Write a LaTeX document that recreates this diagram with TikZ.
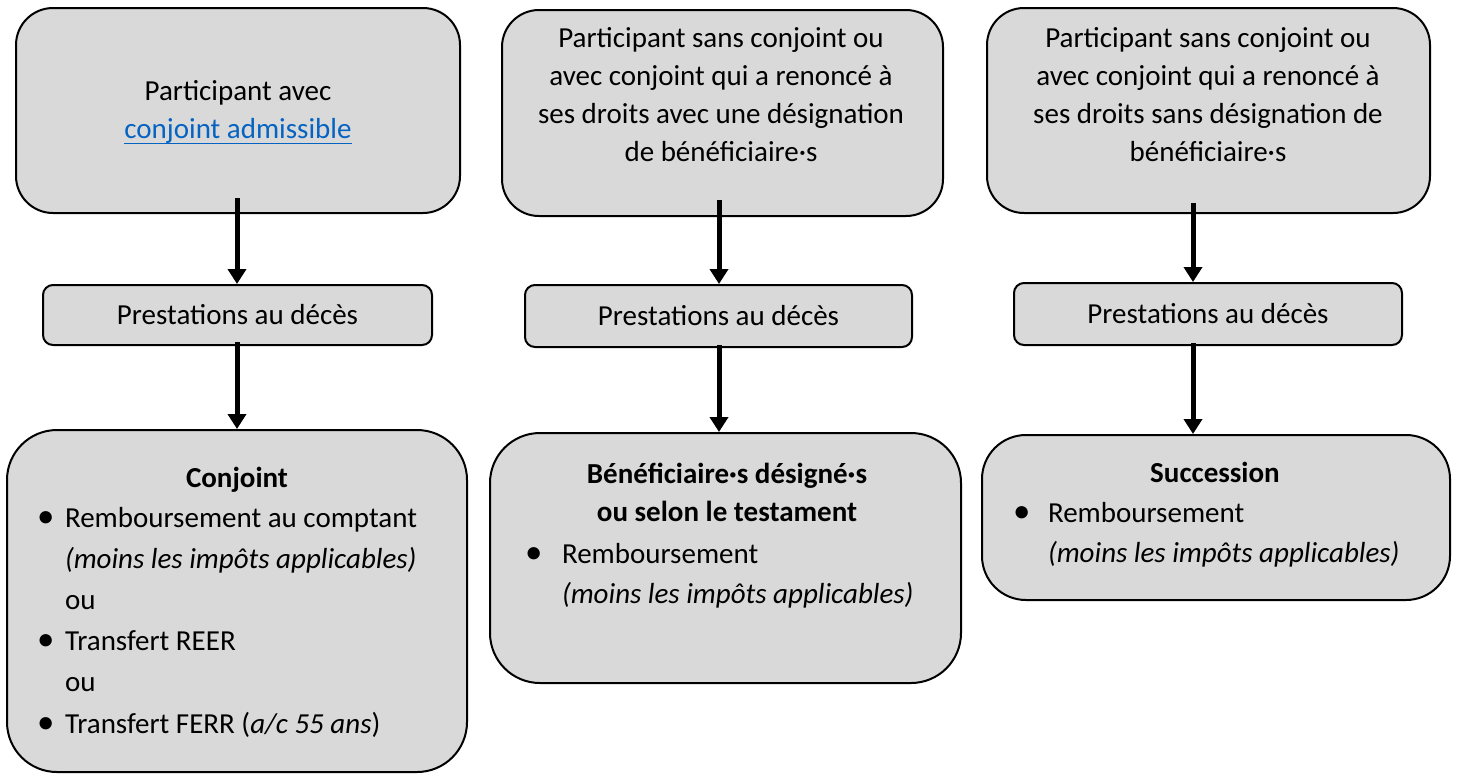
\documentclass[tikz,border=0pt]{standalone}
\usepackage{fontspec}
\setmainfont{Carlito}
\usetikzlibrary{arrows.meta}
\definecolor{boxgray}{HTML}{D9D9D9}
\definecolor{linkblue}{HTML}{0563C1}
\newcommand{\topfont}{\fontsize{14.5pt}{19pt}\selectfont}
\newcommand{\botfont}{\fontsize{14.5pt}{20pt}\selectfont}
\newcommand{\botfontA}{\fontsize{14.5pt}{20.6pt}\selectfont}
\newcommand{\ulink}[1]{\setbox0\hbox{#1}\rlap{\color{linkblue}\rule[-3pt]{\wd0}{0.7pt}}\box0}
\newcommand{\bul}{\scalebox{1.2}{\textbullet}}
\begin{document}
\begin{tikzpicture}[x=0.5pt,y=-0.5pt,
  box/.style={draw=black, line width=1pt, fill=boxgray, rounded corners=#1, inner sep=0pt},
  box/.default=18.5pt,
  txt/.style={inner sep=0pt, outer sep=0pt},
  flow/.style={line width=2.5pt, -{Triangle[width=9pt,length=7.5pt]}}]
\useasboundingbox (0,0) rectangle (1457,773);

% ---------- boxes ----------
\node[box, minimum width=222pt, minimum height=102.5pt] (t1) at (238,110.5) {};
\node[box=5pt, minimum width=194.5pt, minimum height=30pt] (m1) at (237.5,315) {};
\node[box=25pt, minimum width=230pt, minimum height=171pt] (b1) at (237,601) {};

\node[box, minimum width=220.5pt, minimum height=103pt] (t2) at (722.5,113) {};
\node[box=5pt, minimum width=193.5pt, minimum height=31pt] (m2) at (718.5,316) {};
\node[box=25pt, minimum width=235.5pt, minimum height=125pt] (b2) at (725.5,558) {};

\node[box, minimum width=221.5pt, minimum height=102.5pt] (t3) at (1208.5,110.5) {};
\node[box=5pt, minimum width=194pt, minimum height=31pt] (m3) at (1208,314) {};
\node[box=22pt, minimum width=234pt, minimum height=82.5pt] (b3) at (1216,517.5) {};

% ---------- top texts ----------
\node[txt, anchor=base] (tt1) at (238,100) {\topfont
  \begin{tabular}[t]{@{}c@{}}Participant avec\\
  \ulink{\textcolor{linkblue}{conjoint admissible}}\end{tabular}};
\node[txt, anchor=base] (tt2) at (721,47) {\topfont
  \begin{tabular}[t]{@{}c@{}}Participant sans conjoint ou\\
  avec conjoint qui a renoncé à\\
  ses droits avec une désignation\\
  de bénéficiaire·s\end{tabular}};
\node[txt, anchor=base] (tt3) at (1208,47) {\topfont
  \begin{tabular}[t]{@{}c@{}}Participant sans conjoint ou\\
  avec conjoint qui a renoncé à\\
  ses droits sans désignation de\\
  bénéficiaire·s\end{tabular}};

% ---------- middle texts ----------
\node[txt] (mt1) at (m1) {\topfont Prestations au décès};
\node[txt] (mt2) at (m2) {\topfont Prestations au décès};
\node[txt] (mt3) at (m3) {\topfont Prestations au décès};

% ---------- bottom texts ----------
\node[txt, anchor=base] (bh1) at (237,487) {\topfont\bfseries Conjoint};
\node[txt, anchor=base west] (bl1) at (37,527) {\botfontA
  \begin{tabular}[t]{@{}p{14pt}@{}l@{}}
  \bul & Remboursement au comptant\\
   & \textit{(moins les impôts applicables)}\\
   & ou\\
  \bul & Transfert REER\\
   & ou\\
  \bul & Transfert FERR (\textit{a/c 55 ans})
  \end{tabular}};

\node[txt, anchor=base] (bh2) at (727,483) {\topfont\bfseries
  \begin{tabular}[t]{@{}c@{}}Bénéficiaire·s désigné·s\\ ou selon le testament\end{tabular}};
\node[txt, anchor=base west] (bl2) at (525,563) {\botfont
  \begin{tabular}[t]{@{}p{18.5pt}@{}l@{}}
  \bul & Remboursement\\
   & \textit{(moins les impôts applicables)}
  \end{tabular}};

\node[txt, anchor=base] (bh3) at (1215,482) {\topfont\bfseries Succession};
\node[txt, anchor=base west] (bl3) at (1013,522) {\botfont
  \begin{tabular}[t]{@{}p{17.5pt}@{}l@{}}
  \bul & Remboursement\\
   & \textit{(moins les impôts applicables)}
  \end{tabular}};

% ---------- connectors ----------
\coordinate (s1) at (237,198);
\coordinate (r1) at (237,342);
\coordinate (s2) at (719,200);
\coordinate (r2) at (719,345);
\coordinate (s3) at (1193,203);
\coordinate (r3) at (1193,343);
\draw[flow] (s1) -- (s1 |- m1.north);
\draw[flow] (r1) -- (r1 |- b1.north);
\draw[flow] (s2) -- (s2 |- m2.north);
\draw[flow] (r2) -- (r2 |- b2.north);
\draw[flow] (s3) -- (s3 |- m3.north);
\draw[flow] (r3) -- (r3 |- b3.north);
\end{tikzpicture}
\end{document}
